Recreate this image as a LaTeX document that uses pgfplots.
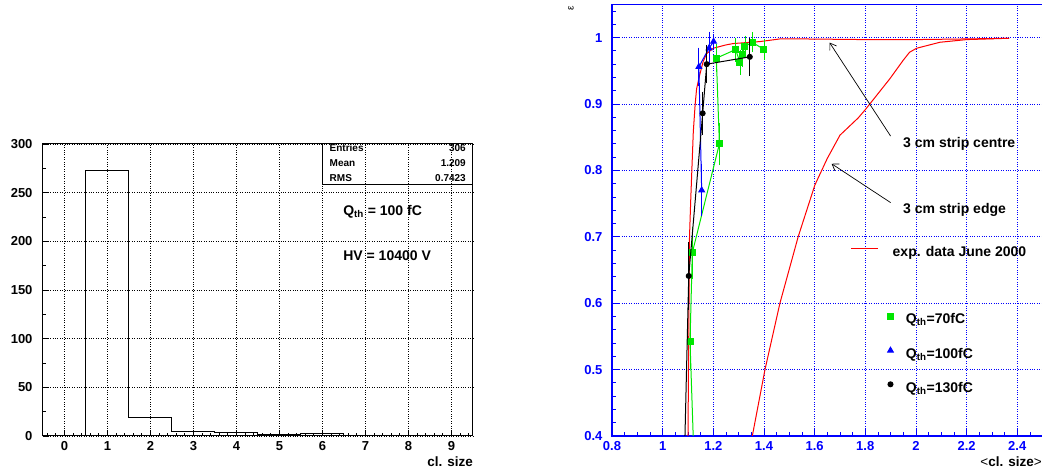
\documentclass[border=0pt]{standalone}
\usepackage{fontspec}
\setmainfont{Liberation Sans}
\usepackage{pgfplots}
\pgfplotsset{compat=1.18}
\usetikzlibrary{arrows.meta}
\definecolor{rootgreen}{RGB}{0,230,0}
\definecolor{rootblue}{RGB}{0,0,255}
\definecolor{rootred}{RGB}{255,0,0}
\newcommand{\fs}[1]{\fontsize{#1}{#1}\selectfont}
\pgfplotsset{
  markonly legend/.style={legend image code/.code={\draw[##1, only marks] plot coordinates {(0pt,5pt)};}},
  shifted line legend/.style={legend image code/.code={\draw[##1] (-39pt,5pt) -- (-12pt,5pt);}},
}

\begin{document}
\begin{tikzpicture}
\path[use as bounding box] (0pt,0pt) rectangle (1042pt,476pt);

% ---------- left: cluster size histogram ----------
\begin{axis}[
  at={(43pt,40pt)}, anchor=south west,
  scale only axis, width=430pt, height=292pt,
  xmin=-0.5, xmax=9.5, ymin=0, ymax=300,
  clip mode=individual,
  xtick={0,1,2,3,4,5,6,7,8,9}, ytick={0,50,100,150,200,250,300},
  minor xtick={-0.4,-0.2,...,9.4}, minor ytick={0,25,...,300},
  tick align=inside, xtick pos=left, ytick pos=left,
  major tick length=6pt, minor tick length=3pt,
  every tick/.style={black, line width=0.8pt},
  axis line style={line width=1pt},
  grid=major,
  major grid style={black, dash pattern=on 0.8pt off 1.6pt, line width=0.6pt},
  /pgf/number format/assume math mode=true,
  ticklabel style={font=\bfseries\fs{13}},
  xticklabel style={yshift=-1.7pt},
  yticklabel style={xshift=-7pt},
]
\addplot[const plot mark left, black, line width=1pt] coordinates {
  (-0.5,0) (0.5,273) (1.5,19) (2.5,5) (3.5,4) (4.5,2) (5.5,3) (6.5,0) (9.5,0)};

\draw[line width=1pt] (axis cs:5.99,258) rectangle (axis cs:9.5,300);
\node[anchor=west, inner sep=0, font=\bfseries\fs{10}] at (axis cs:6.163,295.6) {Entries};
\node[anchor=west, inner sep=0, font=\bfseries\fs{10}] at (axis cs:6.163,280.2) {Mean};
\node[anchor=west, inner sep=0, font=\bfseries\fs{10}] at (axis cs:6.163,264.8) {RMS};
\node[anchor=east, inner sep=0, font=\bfseries\fs{10}] at (axis cs:9.337,295.6) {306};
\node[anchor=east, inner sep=0, font=\bfseries\fs{10}] at (axis cs:9.337,280.2) {1.209};
\node[anchor=east, inner sep=0, font=\bfseries\fs{10}] at (axis cs:9.337,264.8) {0.7423};

\node[anchor=west, inner sep=0, font=\bfseries\fs{14}] at (axis cs:6.48,230) {Q\textsubscript{th} = 100 fC};
\node[anchor=west, inner sep=0, font=\bfseries\fs{14}] at (axis cs:6.48,185) {HV = 10400 V};
\node[anchor=north east, inner sep=0, font=\bfseries\fs{13.5}] at ([yshift=-21pt]rel axis cs:1,0) {cl. size};
\end{axis}

% ---------- right: efficiency vs mean cluster size ----------
\begin{axis}[
  at={(612pt,40pt)}, anchor=south west,
  scale only axis, width=433.1pt, height=431.6pt,
  xmin=0.8, xmax=2.51, ymin=0.4, ymax=1.05,
  clip mode=individual,
  xtick={0.8,1,1.2,1.4,1.6,1.8,2,2.2,2.4},
  ytick={0.4,0.5,0.6,0.7,0.8,0.9,1},
  minor xtick={0.8,0.85,...,2.5}, minor ytick={0.4,0.42,...,1.05},
  tick align=inside, xtick pos=left, ytick pos=left,
  major tick length=8pt, minor tick length=4pt,
  every tick/.style={rootblue, line width=0.8pt},
  axis line style={rootblue, line width=1.2pt},
  grid=major,
  major grid style={rootblue, dash pattern=on 0.8pt off 1.6pt, line width=0.6pt},
  /pgf/number format/assume math mode=true,
  ticklabel style={font=\bfseries\fs{13}, text=rootblue},
  xticklabel style={yshift=-2pt},
  yticklabel style={xshift=-6pt},
  legend style={at={(0.5518,0.4402)}, anchor=north west, draw=none, fill=none,
    inner sep=0pt, outer sep=0pt, row sep=19pt, column sep=12.5pt,
    nodes={font=\bfseries\fs{14}, inner sep=0pt, text height=10pt, text depth=4.5pt}},
  legend cell align=left,
]
% 3 cm strip edge
\addplot[rootred, line width=1pt, forget plot] coordinates {
  (1.354,0.40) (1.404,0.50) (1.463,0.60) (1.535,0.70) (1.601,0.778) (1.65,0.818)
  (1.70,0.853) (1.772,0.879) (1.799,0.891) (1.897,0.938) (1.95,0.966) (1.975,0.978)
  (2.003,0.984) (2.095,0.993) (2.20,0.997) (2.368,0.999)};
% 3 cm strip centre
\addplot[rootred, line width=1pt, shifted line legend] coordinates {
  (1.100,0.40) (1.102,0.50) (1.104,0.60) (1.106,0.70) (1.111,0.757) (1.116,0.808)
  (1.121,0.858) (1.128,0.898) (1.134,0.923) (1.147,0.945) (1.160,0.964) (1.174,0.976)
  (1.20,0.984) (1.25,0.989) (1.278,0.991) (1.384,0.994) (1.463,0.998) (1.55,0.998)
  (1.8,0.997) (2.0,0.997) (2.2,0.998) (2.368,0.999)};
\addlegendentry{\hspace*{-13.3pt}exp. data June 2000}
\addlegendimage{empty legend}
\addlegendentry{}
% Q_th = 70 fC
\addplot[rootgreen, line width=1pt, mark=square*, mark size=3pt, mark options={solid},
  markonly legend,
  error bars/.cd, y dir=both, y explicit,
  error bar style={rootgreen, line width=0.8pt},
  error mark options={rootgreen, mark size=4pt, line width=0.8pt}]
  table[x=x, y=y, y error=e] {
x     y     e
1.125 0.350 0.000
1.108 0.542 0.035
1.117 0.676 0.033
1.224 0.840 0.026
1.212 0.969 0.015
1.288 0.982 0.012
1.305 0.963 0.013
1.314 0.974 0.012
1.325 0.987 0.010
1.354 0.993 0.009
1.400 0.982 0.010
};
\addlegendentry{Q\textsubscript{th}=70fC}
% Q_th = 100 fC
\addplot[rootblue, line width=1pt, mark=triangle*, mark size=3.3pt, mark options={solid},
  markonly legend,
  error bars/.cd, y dir=both, y explicit,
  error bar style={rootblue, line width=0.8pt},
  error mark options={rootblue, mark size=4pt, line width=0.8pt}]
  table[x=x, y=y, y error=e] {
x     y     e
1.154 0.770 0.033
1.143 0.956 0.023
1.183 0.984 0.019
1.201 0.994 0.006
};
\addlegendentry{Q\textsubscript{th}=100fC}
% Q_th = 130 fC
\addplot[black, line width=1pt, mark=*, mark size=2.5pt, mark options={solid},
  markonly legend,
  error bars/.cd, y dir=both, y explicit,
  error bar style={black, line width=0.8pt},
  error mark options={black, mark size=4pt, line width=0.8pt}]
  table[x=x, y=y, y error=e] {
x     y     e
1.085 0.350 0.000
1.103 0.641 0.045
1.158 0.886 0.026
1.174 0.960 0.023
1.344 0.971 0.023
};
\addlegendentry{Q\textsubscript{th}=130fC}

\draw[black, line width=0.7pt, -{Straight Barb[length=6pt, width=8pt]}]
  (axis cs:1.9,0.8517) -- (axis cs:1.659,0.9925);
\draw[black, line width=0.7pt, -{Straight Barb[length=6pt, width=8pt]}]
  (axis cs:1.9,0.7515) -- (axis cs:1.667,0.810);
\node[anchor=base west, inner sep=0, font=\bfseries\fs{14}] at (axis cs:1.949,0.8343) {3 cm strip centre};
\node[anchor=base west, inner sep=0, font=\bfseries\fs{14}] at (axis cs:1.949,0.7349) {3 cm strip edge};

\node[rotate=90, inner sep=0, font=\fs{10}] at ([shift={(-41pt,-3.5pt)}]rel axis cs:0,1) {ε};
\node[anchor=north east, inner sep=0, font=\fs{13.5}] at ([yshift=-21pt]axis cs:2.4976,0.4)
  {<\textbf{cl. size}>};
\end{axis}
\end{tikzpicture}
\end{document}
